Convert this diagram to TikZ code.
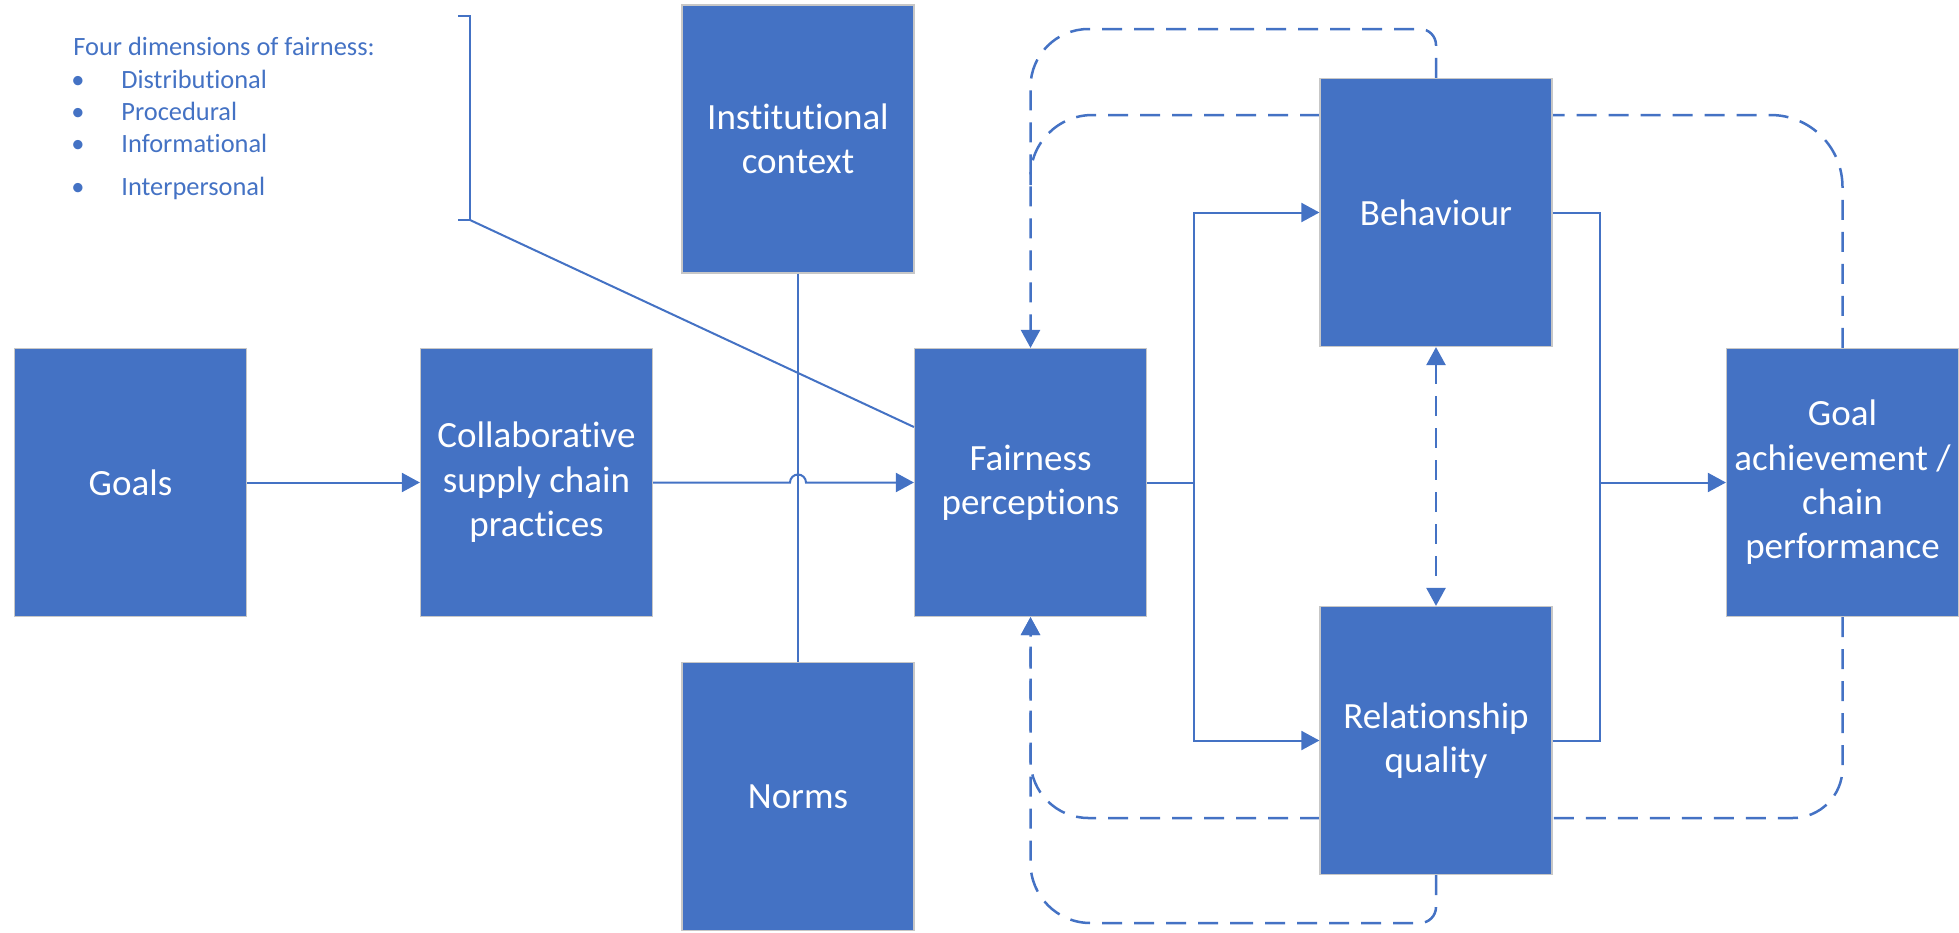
\documentclass[tikz,border=0pt]{standalone}
\usepackage{fontspec}
\setmainfont{Carlito}[Ligatures=NoCommon]
\usetikzlibrary{arrows.meta,backgrounds}

\definecolor{officeblue}{HTML}{4472C4}

\tikzset{
  box/.style={rectangle, fill=officeblue, draw=black!22, line width=0.6pt,
    minimum width=116pt, minimum height=134pt, inner sep=2pt,
    text=white, align=center, font=\fontsize{18.5}{22.2}\selectfont},
  link/.style={draw=officeblue, line width=1pt},
  fback/.style={draw=officeblue, line width=1.25pt, dash pattern=on 10pt off 6pt},
  tip/.style={-{Triangle[width=9.5pt,length=9pt]}},
  dimtext/.style={text=officeblue, inner sep=0pt, font=\fontsize{13.2}{16}\selectfont}
}

\begin{document}
\begin{tikzpicture}[x=0.5pt,y=-0.5pt]

  \useasboundingbox (0,0) rectangle (1959,932);

% Les blocs

  \node[box] (goals)   at (130.5,482.5) {Goals};
  \node[box] (collab)  at (536.5,482.5) {Collaborative\\supply chain\\practices};
  \node[box] (inst)    at (798,139)     {Institutional\\context};
  \node[box] (norms)   at (798,796.5)   {Norms};
  \node[box] (fair)    at (1030.5,482.5) {Fairness\\perceptions};
  \node[box] (behav)   at (1436,212.5)  {Behaviour};
  \node[box] (relq)    at (1436,740.5)  {Relationship\\quality};
  \node[box] (goalach) at (1842.5,482.5) {Goal\\achievement /\\chain\\performance};

% Dimensions de l'equite

  \node[dimtext, anchor=base west] (dimtitle) at (73,55) {Four dimensions of fairness:};
  \foreach \y/\dimname in {88/Distributional, 120/Procedural, 152/Informational, 195/Interpersonal}{
    \node[dimtext, anchor=base] (bul\y) at (78,\y) {\textbullet};
    \node[dimtext, anchor=base west] (dim\y) at (121,\y) {\dimname};
  }

  % crochet
  \coordinate (brtop) at (470,16);
  \coordinate (brbot) at (470,220);
  \draw[link] ([xshift=-6pt]brtop) -- (brtop) -- (brbot) -- ([xshift=-6pt]brbot);
  \draw[link] (brbot) -- (fair.west |- 0,427);

% Fleches principales

  \draw[link,tip] (goals) -- (collab);
  \draw[link,tip] (collab.east) -- (790,482.5) arc[start angle=180,end angle=0,radius=4pt] -- (fair.west);
  \draw[link] (inst.south) -- (norms.north);

  \coordinate (split) at (1194,482.5);
  \coordinate (merge) at (1600,482.5);
  \draw[link] (fair.east) -- (split);
  \draw[link,tip] (split) |- (behav.west);
  \draw[link,tip] (split) |- (relq.west);
  \draw[link] (behav.east) -| (merge);
  \draw[link] (relq.east) -| (merge);
  \draw[link,tip] (merge) -- (goalach.west);

  \draw[fback,{Triangle[width=9.5pt,length=9pt]}-{Triangle[width=9.5pt,length=9pt]}] (behav.south) -- (relq.north);

% Retroactions (en pointilles, derriere les blocs)

  \coordinate (topout) at (1250,29);
  \coordinate (topin)  at (1320,115);
  \coordinate (botin)  at (1320,818);
  \coordinate (botout) at (1250,923);
  \begin{scope}[on background layer]
    \draw[fback,rounded corners=8pt] (behav.north) -- (behav.north |- topout) -- (topout);
    \draw[fback,tip,rounded corners=29pt] (topout) -- (fair.north |- topout) -- (fair.north);
    \draw[fback,rounded corners=36pt] (goalach.north) -- (goalach.north |- topin) -- (topin);
    \draw[fback,rounded corners=31pt] (topin) -- (fair.north |- topin) -- (fair.north |- 0,185);
    \draw[fback,rounded corners=25pt] (goalach.south) -- (goalach.south |- botin) -- (botin);
    \draw[fback,tip,rounded corners=29pt] (botin) -- (fair.south |- botin) -- (fair.south);
    \draw[fback,rounded corners=8pt] (relq.south) -- (relq.south |- botout) -- (botout);
    \draw[fback,tip,rounded corners=30pt] (botout) -- (fair.south |- botout) -- (fair.south);
  \end{scope}

\end{tikzpicture}
\end{document}
